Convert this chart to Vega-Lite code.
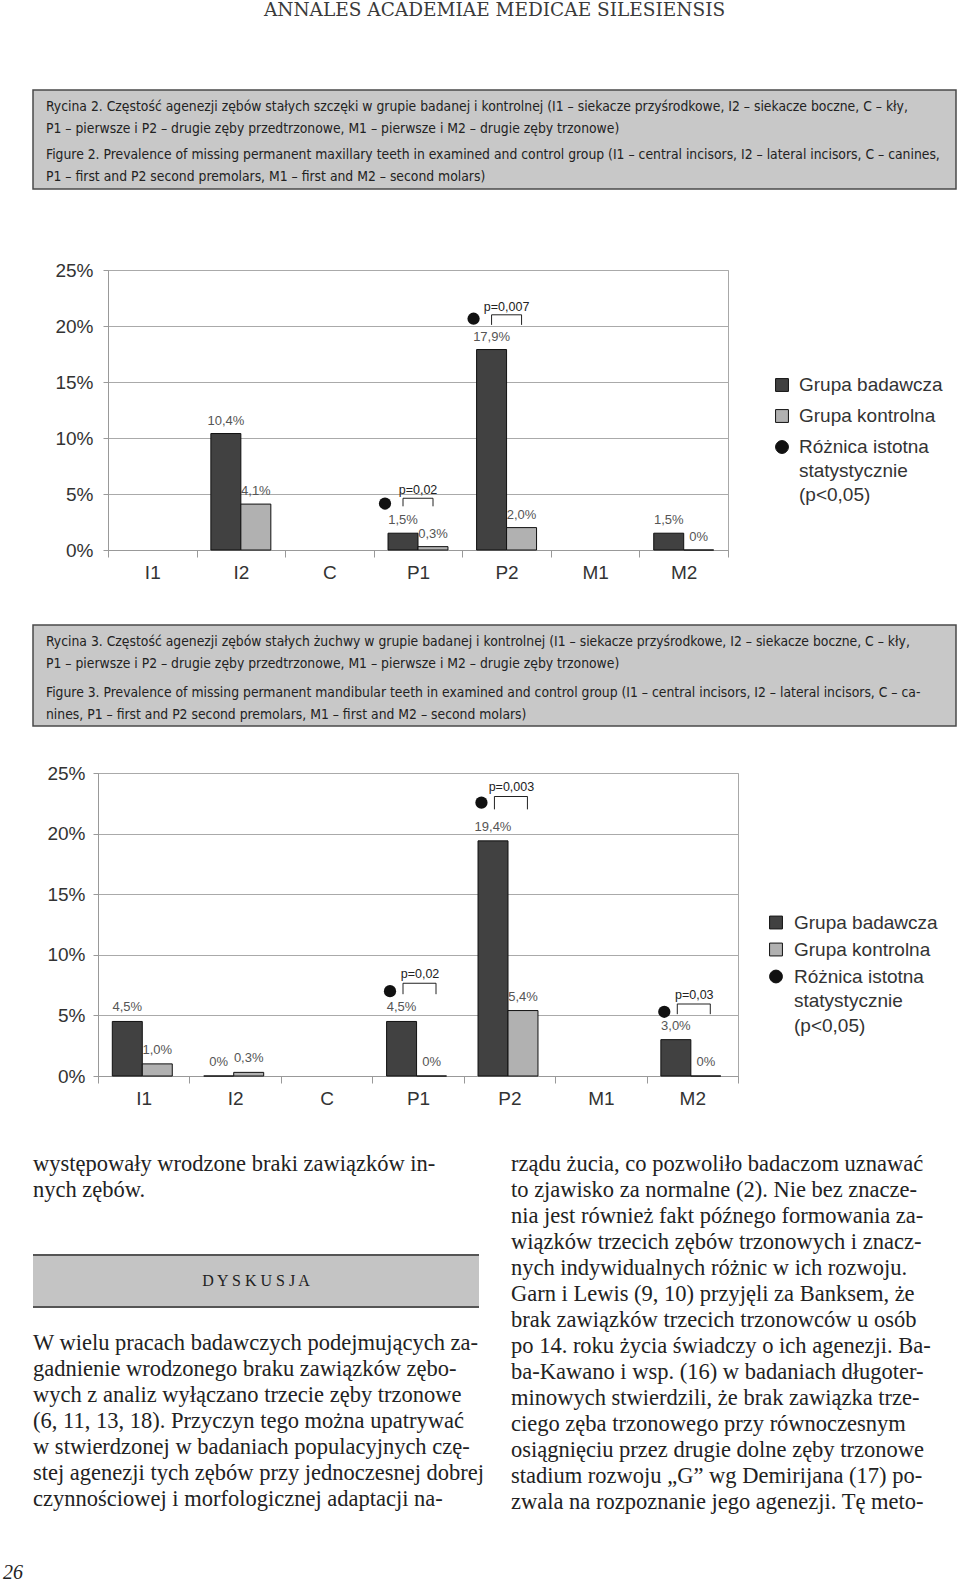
{
"$schema": "https://vega.github.io/schema/vega-lite/v6.json",
"padding": 0,
"background": "white",
"spacing": 0,
"bounds": "full",
"config": {"view": {"stroke": null}, "concat": {"spacing": 0}, "font": "Liberation Sans"},
"datasets": {
"none": [],
"header": [{"t": "ANNALES ACADEMIAE MEDICAE SILESIENSIS"}],
"cap1": [
{"k": 1, "lines": ["Rycina 2. Częstość agenezji zębów stałych szczęki w grupie badanej i kontrolnej (I1 – siekacze przyśrodkowe, I2 – siekacze boczne, C – kły,", "P1 – pierwsze i P2 – drugie zęby przedtrzonowe, M1 – pierwsze i M2 – drugie zęby trzonowe)"]},
{"k": 2, "lines": ["Figure 2. Prevalence of missing permanent maxillary teeth in examined and control group (I1 – central incisors, I2 – lateral incisors, C – canines,", "P1 – first and P2 second premolars, M1 – first and M2 – second molars)"]}
],
"cap2": [
{"k": 1, "lines": ["Rycina 3. Częstość agenezji zębów stałych żuchwy w grupie badanej i kontrolnej (I1 – siekacze przyśrodkowe, I2 – siekacze boczne, C – kły,", "P1 – pierwsze i P2 – drugie zęby przedtrzonowe, M1 – pierwsze i M2 – drugie zęby trzonowe)"]},
{"k": 2, "lines": ["Figure 3. Prevalence of missing permanent mandibular teeth in examined and control group (I1 – central incisors, I2 – lateral incisors, C – ca-", "nines, P1 – first and P2 second premolars, M1 – first and M2 – second molars)"]}
],
"bars1": [
{"tooth": "I2", "grp": "Grupa badawcza", "value": 10.4, "label": "10,4%"},
{"tooth": "I2", "grp": "Grupa kontrolna", "value": 4.1, "label": "4,1%"},
{"tooth": "P1", "grp": "Grupa badawcza", "value": 1.5, "label": "1,5%"},
{"tooth": "P1", "grp": "Grupa kontrolna", "value": 0.3, "label": "0,3%"},
{"tooth": "P2", "grp": "Grupa badawcza", "value": 17.9, "label": "17,9%"},
{"tooth": "P2", "grp": "Grupa kontrolna", "value": 2.0, "label": "2,0%"},
{"tooth": "M2", "grp": "Grupa badawcza", "value": 1.5, "label": "1,5%"},
{"tooth": "M2", "grp": "Grupa kontrolna", "value": 0, "label": "0%"}
],
"sig1": [
{"tooth": "P1", "p": "p=0,02", "dot": 4.15, "top": 4.62, "bottom": 3.9},
{"tooth": "P2", "p": "p=0,007", "dot": 20.65, "top": 21.0, "bottom": 20.1}
],
"bars2": [
{"tooth": "I1", "grp": "Grupa badawcza", "value": 4.5, "label": "4,5%"},
{"tooth": "I1", "grp": "Grupa kontrolna", "value": 1.0, "label": "1,0%"},
{"tooth": "I2", "grp": "Grupa badawcza", "value": 0, "label": "0%"},
{"tooth": "I2", "grp": "Grupa kontrolna", "value": 0.3, "label": "0,3%"},
{"tooth": "P1", "grp": "Grupa badawcza", "value": 4.5, "label": "4,5%"},
{"tooth": "P1", "grp": "Grupa kontrolna", "value": 0, "label": "0%"},
{"tooth": "P2", "grp": "Grupa badawcza", "value": 19.4, "label": "19,4%"},
{"tooth": "P2", "grp": "Grupa kontrolna", "value": 5.4, "label": "5,4%"},
{"tooth": "M2", "grp": "Grupa badawcza", "value": 3.0, "label": "3,0%"},
{"tooth": "M2", "grp": "Grupa kontrolna", "value": 0, "label": "0%"}
],
"sig2": [
{"tooth": "P1", "p": "p=0,02", "dot": 7.0, "top": 7.66, "bottom": 6.75},
{"tooth": "P2", "p": "p=0,003", "dot": 22.55, "top": 23.07, "bottom": 22.0},
{"tooth": "M2", "p": "p=0,03", "dot": 5.3, "top": 5.95, "bottom": 5.1}
],
"legend": [
{"k": 1, "name": "Grupa badawcza", "label": "Grupa badawcza"},
{"k": 2, "name": "Grupa kontrolna", "label": "Grupa kontrolna"},
{"k": 3, "name": "Różnica istotna", "label": ["Różnica istotna", "statystycznie", "(p<0,05)"]}
],
"leftText": [
{"slot": 1, "t": "występowały wrodzone braki zawiązków in-"},
{"slot": 2, "t": "nych zębów."}
],
"leftPara": [
{"slot": 8, "t": "W wielu pracach badawczych podejmujących za-"},
{"slot": 9, "t": "gadnienie wrodzonego braku zawiązków zębo-"},
{"slot": 10, "t": "wych z analiz wyłączano trzecie zęby trzonowe"},
{"slot": 11, "t": "(6, 11, 13, 18).  Przyczyn tego można upatrywać"},
{"slot": 12, "t": "w stwierdzonej w badaniach populacyjnych czę-"},
{"slot": 13, "t": "stej agenezji tych zębów przy jednoczesnej dobrej"},
{"slot": 14, "t": "czynnościowej i morfologicznej adaptacji na-"}
],
"dyskFill": [{"slot": 5}, {"slot": 6}],
"dyskTop": [{"slot": 5, "t": "D Y S K U S J A"}],
"dyskBottom": [{"slot": 6}],
"right": [
{"slot": 1, "t": "rządu żucia, co pozwoliło badaczom uznawać"},
{"slot": 2, "t": "to zjawisko za normalne (2). Nie bez znacze-"},
{"slot": 3, "t": "nia jest również fakt późnego formowania za-"},
{"slot": 4, "t": "wiązków trzecich zębów trzonowych i znacz-"},
{"slot": 5, "t": "nych indywidualnych różnic w ich rozwoju."},
{"slot": 6, "t": "Garn i Lewis (9, 10) przyjęli za Banksem, że"},
{"slot": 7, "t": "brak zawiązków trzecich trzonowców u osób"},
{"slot": 8, "t": "po 14. roku życia świadczy o ich agenezji. Ba-"},
{"slot": 9, "t": "ba-Kawano i wsp. (16) w badaniach długoter-"},
{"slot": 10, "t": "minowych stwierdzili, że brak zawiązka trze-"},
{"slot": 11, "t": "ciego zęba trzonowego przy równoczesnym"},
{"slot": 12, "t": "osiągnięciu przez drugie dolne zęby trzonowe"},
{"slot": 13, "t": "stadium rozwoju „G” wg Demirijana (17) po-"},
{"slot": 14, "t": "zwala na rozpoznanie jego agenezji. Tę meto-"}
],
"page": [{"t": "26"}]
},
"vconcat": [
{"hconcat": [
 {"width": 33, "height": 20, "data": {"name": "none"}, "mark": "text", "encoding": {"text": {"value": ""}}},
 {"width": 923, "height": 20, "data": {"name": "header"}, "mark": {"type": "text", "font": "DejaVu Serif", "fontSize": 18.5, "color": "#3a3a3a", "baseline": "middle"}, "encoding": {"text": {"field": "t", "type": "nominal"}}}
], "bounds": "flush", "spacing": 0},
{"width": 1, "height": 69, "data": {"name": "none"}, "mark": "text", "encoding": {"text": {"value": ""}}},
{"hconcat": [
 {"width": 33, "height": 1, "data": {"name": "none"}, "mark": "text", "encoding": {"text": {"value": ""}}},
 {"width": 923, "height": 99, "view": {"fill": "#c8c8c8", "stroke": "#4a4a4a", "strokeWidth": 1.5},
  "data": {"name": "cap1"},
  "mark": {"type": "text", "align": "left", "baseline": "middle", "font": "DejaVu Sans Condensed", "fontSize": 13.8, "lineHeight": 22, "color": "#222"},
  "encoding": {"x": {"value": 13}, "y": {"field": "k", "type": "ordinal", "axis": null, "scale": {"type": "point", "padding": 0.531, "align": 0.333}}, "text": {"field": "lines", "type": "nominal"}}}
], "bounds": "flush", "spacing": 0},
{"width": 1, "height": 70, "data": {"name": "none"}, "mark": "text", "encoding": {"text": {"value": ""}}},
{"hconcat": [
 {"width": 108, "height": 1, "data": {"name": "none"}, "mark": "text", "encoding": {"text": {"value": ""}}},
 {"width": 620, "height": 280, "view": {"stroke": "#a8a8a8"},
  "encoding": {"x": {"field": "tooth", "type": "nominal", "title": null, "scale": {"domain": ["I1", "I2", "C", "P1", "P2", "M1", "M2"], "paddingInner": 0, "paddingOuter": 0},
    "axis": {"labelAngle": 0, "labelFontSize": 19, "labelColor": "#333", "tickBand": "extent", "tickSize": 7, "tickColor": "#999", "domainColor": "#999", "labelPadding": 6}}},
  "layer": [
   {"data": {"name": "bars1"}, "mark": {"type": "bar", "stroke": "#111", "strokeWidth": 1},
    "encoding": {"y": {"field": "value", "type": "quantitative", "title": null, "scale": {"domain": [0, 25], "padding": 0, "nice": false},
      "axis": {"values": [0, 5, 10, 15, 20, 25], "labelExpr": "datum.value + '%'", "labelFontSize": 19, "labelColor": "#333", "gridColor": "#aaa", "tickSize": 5, "tickColor": "#999", "domainColor": "#999", "labelPadding": 10}},
     "xOffset": {"field": "grp", "scale": {"domain": ["Grupa badawcza", "Grupa kontrolna"], "paddingInner": 0, "paddingOuter": 0.477}},
     "color": {"field": "grp", "type": "nominal", "scale": {"domain": ["Grupa badawcza", "Grupa kontrolna"], "range": ["#414141", "#b1b1b1"]}, "legend": null}}},
   {"data": {"name": "bars1"}, "mark": {"type": "text", "baseline": "middle", "dy": -13, "fontSize": 13, "color": "#555"},
    "encoding": {"y": {"field": "value", "type": "quantitative", "title": null}, "xOffset": {"field": "grp"}, "text": {"field": "label", "type": "nominal"}}},
   {"data": {"name": "sig1"}, "mark": {"type": "point", "shape": "circle", "filled": true, "color": "#111", "opacity": 1, "size": 150, "xOffset": -33},
    "encoding": {"y": {"field": "dot", "type": "quantitative", "title": null}}},
   {"data": {"name": "sig1"}, "mark": {"type": "rule", "color": "#222", "strokeWidth": 1, "xOffset": -15},
    "encoding": {"y": {"field": "top", "type": "quantitative", "title": null}, "y2": {"field": "bottom"}}},
   {"data": {"name": "sig1"}, "mark": {"type": "rule", "color": "#222", "strokeWidth": 1, "xOffset": 15},
    "encoding": {"y": {"field": "top", "type": "quantitative", "title": null}, "y2": {"field": "bottom"}}},
   {"data": {"name": "sig1"}, "mark": {"type": "tick", "color": "#222", "size": 30, "thickness": 1, "opacity": 1},
    "encoding": {"y": {"field": "top", "type": "quantitative", "title": null}}},
   {"data": {"name": "sig1"}, "mark": {"type": "text", "baseline": "bottom", "dy": -1, "fontSize": 12.5, "color": "#222"},
    "encoding": {"y": {"field": "top", "type": "quantitative", "title": null}, "text": {"field": "p", "type": "nominal"}}}
  ]},
 {"width": 232, "height": 280, "data": {"name": "legend"},
  "encoding": {"y": {"field": "k", "type": "quantitative", "axis": null, "scale": {"domain": [-2.71, 6.322], "reverse": true, "nice": false, "zero": false}}},
  "layer": [
   {"mark": {"type": "point", "filled": true, "stroke": "#111", "strokeWidth": 1, "size": 165, "opacity": 1},
    "encoding": {"x": {"value": 54},
     "shape": {"field": "name", "type": "nominal", "scale": {"domain": ["Grupa badawcza", "Grupa kontrolna", "Różnica istotna"], "range": ["square", "square", "circle"]}, "legend": null},
     "fill": {"field": "name", "type": "nominal", "scale": {"domain": ["Grupa badawcza", "Grupa kontrolna", "Różnica istotna"], "range": ["#414141", "#b1b1b1", "#111111"]}, "legend": null}}},
   {"mark": {"type": "text", "align": "left", "baseline": "middle", "fontSize": 19, "lineHeight": 24, "color": "#333"},
    "encoding": {"x": {"value": 71}, "text": {"field": "label", "type": "nominal"}}}
  ]}
], "bounds": "flush", "spacing": 0},
{"width": 1, "height": 41, "data": {"name": "none"}, "mark": "text", "encoding": {"text": {"value": ""}}},
{"hconcat": [
 {"width": 33, "height": 1, "data": {"name": "none"}, "mark": "text", "encoding": {"text": {"value": ""}}},
 {"width": 923, "height": 101, "view": {"fill": "#c8c8c8", "stroke": "#4a4a4a", "strokeWidth": 1.5},
  "data": {"name": "cap2"},
  "mark": {"type": "text", "align": "left", "baseline": "middle", "font": "DejaVu Sans Condensed", "fontSize": 13.8, "lineHeight": 22, "color": "#222"},
  "encoding": {"x": {"value": 13}, "y": {"field": "k", "type": "ordinal", "axis": null, "scale": {"type": "point", "padding": 0.49, "align": 0.34}}, "text": {"field": "lines", "type": "nominal"}}}
], "bounds": "flush", "spacing": 0},
{"width": 1, "height": 36, "data": {"name": "none"}, "mark": "text", "encoding": {"text": {"value": ""}}},
{"hconcat": [
 {"width": 98, "height": 1, "data": {"name": "none"}, "mark": "text", "encoding": {"text": {"value": ""}}},
 {"width": 640, "height": 303, "view": {"stroke": "#a8a8a8"},
  "encoding": {"x": {"field": "tooth", "type": "nominal", "title": null, "scale": {"domain": ["I1", "I2", "C", "P1", "P2", "M1", "M2"], "paddingInner": 0, "paddingOuter": 0},
    "axis": {"labelAngle": 0, "labelFontSize": 19, "labelColor": "#333", "tickBand": "extent", "tickSize": 7, "tickColor": "#999", "domainColor": "#999", "labelPadding": 6}}},
  "layer": [
   {"data": {"name": "bars2"}, "mark": {"type": "bar", "stroke": "#111", "strokeWidth": 1},
    "encoding": {"y": {"field": "value", "type": "quantitative", "title": null, "scale": {"domain": [0, 25], "padding": 0, "nice": false},
      "axis": {"values": [0, 5, 10, 15, 20, 25], "labelExpr": "datum.value + '%'", "labelFontSize": 19, "labelColor": "#333", "gridColor": "#aaa", "tickSize": 5, "tickColor": "#999", "domainColor": "#999", "labelPadding": 8}},
     "xOffset": {"field": "grp", "scale": {"domain": ["Grupa badawcza", "Grupa kontrolna"], "paddingInner": 0, "paddingOuter": 0.45}},
     "color": {"field": "grp", "type": "nominal", "scale": {"domain": ["Grupa badawcza", "Grupa kontrolna"], "range": ["#414141", "#b1b1b1"]}, "legend": null}}},
   {"data": {"name": "bars2"}, "mark": {"type": "text", "baseline": "middle", "dy": -14, "fontSize": 13, "color": "#555"},
    "encoding": {"y": {"field": "value", "type": "quantitative", "title": null}, "xOffset": {"field": "grp"}, "text": {"field": "label", "type": "nominal"}}},
   {"data": {"name": "sig2"}, "mark": {"type": "point", "shape": "circle", "filled": true, "color": "#111", "opacity": 1, "size": 150, "xOffset": -28},
    "encoding": {"y": {"field": "dot", "type": "quantitative", "title": null}}},
   {"data": {"name": "sig2"}, "mark": {"type": "rule", "color": "#222", "strokeWidth": 1, "xOffset": -15},
    "encoding": {"y": {"field": "top", "type": "quantitative", "title": null}, "y2": {"field": "bottom"}}},
   {"data": {"name": "sig2"}, "mark": {"type": "rule", "color": "#222", "strokeWidth": 1, "xOffset": 18},
    "encoding": {"y": {"field": "top", "type": "quantitative", "title": null}, "y2": {"field": "bottom"}}},
   {"data": {"name": "sig2"}, "mark": {"type": "tick", "color": "#222", "size": 33, "thickness": 1, "opacity": 1, "xOffset": 1.5},
    "encoding": {"y": {"field": "top", "type": "quantitative", "title": null}}},
   {"data": {"name": "sig2"}, "mark": {"type": "text", "baseline": "bottom", "dy": -2, "dx": 2, "fontSize": 12.5, "color": "#222"},
    "encoding": {"y": {"field": "top", "type": "quantitative", "title": null}, "text": {"field": "p", "type": "nominal"}}}
  ]},
 {"width": 222, "height": 303, "data": {"name": "legend"},
  "encoding": {"y": {"field": "k", "type": "quantitative", "axis": null, "scale": {"domain": [-4.537, 6.685], "reverse": true, "nice": false, "zero": false}}},
  "layer": [
   {"mark": {"type": "point", "filled": true, "stroke": "#111", "strokeWidth": 1, "size": 165, "opacity": 1},
    "encoding": {"x": {"value": 38},
     "shape": {"field": "name", "type": "nominal", "scale": {"domain": ["Grupa badawcza", "Grupa kontrolna", "Różnica istotna"], "range": ["square", "square", "circle"]}, "legend": null},
     "fill": {"field": "name", "type": "nominal", "scale": {"domain": ["Grupa badawcza", "Grupa kontrolna", "Różnica istotna"], "range": ["#414141", "#b1b1b1", "#111111"]}, "legend": null}}},
   {"mark": {"type": "text", "align": "left", "baseline": "middle", "fontSize": 19, "lineHeight": 24.5, "color": "#333"},
    "encoding": {"x": {"value": 56}, "text": {"field": "label", "type": "nominal"}}}
  ]}
], "bounds": "flush", "spacing": 0},
{"width": 1, "height": 42, "data": {"name": "none"}, "mark": "text", "encoding": {"text": {"value": ""}}},
{"hconcat": [
 {"width": 33, "height": 1, "data": {"name": "none"}, "mark": "text", "encoding": {"text": {"value": ""}}},
 {"width": 446, "height": 364,
  "encoding": {"y": {"field": "slot", "type": "ordinal", "axis": null, "title": null, "scale": {"domain": [1, 2, 3, 4, 5, 6, 7, 8, 9, 10, 11, 12, 13, 14], "paddingInner": 0, "paddingOuter": 0}}},
  "layer": [
   {"data": {"name": "dyskFill"}, "mark": {"type": "rect", "color": "#c4c4c4"}, "encoding": {"x": {"value": 0}, "x2": {"value": "width"}}},
   {"data": {"name": "dyskTop"}, "mark": {"type": "rule", "color": "#555", "strokeWidth": 2}, "encoding": {"y": {"field": "slot", "type": "ordinal", "bandPosition": 0}}},
   {"data": {"name": "dyskBottom"}, "mark": {"type": "rule", "color": "#555", "strokeWidth": 2}, "encoding": {"y": {"field": "slot", "type": "ordinal", "bandPosition": 1}}},
   {"data": {"name": "dyskTop"}, "mark": {"type": "text", "font": "Liberation Serif", "fontSize": 16, "color": "#222", "baseline": "middle"}, "encoding": {"y": {"field": "slot", "type": "ordinal", "bandPosition": 1}, "text": {"field": "t", "type": "nominal"}}},
   {"data": {"name": "leftText"}, "mark": {"type": "text", "align": "left", "baseline": "middle", "font": "Liberation Serif", "fontSize": 22.5, "color": "#222"}, "encoding": {"x": {"value": 0}, "text": {"field": "t", "type": "nominal"}}},
   {"data": {"name": "leftPara"}, "mark": {"type": "text", "align": "left", "baseline": "middle", "dy": -3, "font": "Liberation Serif", "fontSize": 22.5, "color": "#222"}, "encoding": {"x": {"value": 0}, "text": {"field": "t", "type": "nominal"}}}
  ]},
 {"width": 477, "height": 364, "data": {"name": "right"}, "mark": {"type": "text", "align": "left", "baseline": "middle", "font": "Liberation Serif", "fontSize": 22.5, "color": "#222"},
  "encoding": {"x": {"value": 32}, "y": {"field": "slot", "type": "ordinal", "axis": null, "scale": {"paddingInner": 0, "paddingOuter": 0}}, "text": {"field": "t", "type": "nominal"}}}
], "bounds": "flush", "spacing": 0},
{"width": 1, "height": 48, "data": {"name": "none"}, "mark": "text", "encoding": {"text": {"value": ""}}},
{"width": 26, "height": 20, "data": {"name": "page"}, "mark": {"type": "text", "font": "Liberation Serif", "fontStyle": "italic", "fontSize": 20, "color": "#222", "baseline": "middle"}, "encoding": {"text": {"field": "t", "type": "nominal"}}}
]
}
